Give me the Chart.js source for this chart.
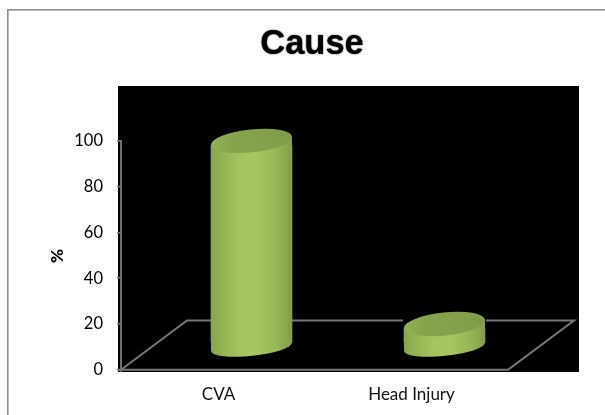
<!DOCTYPE html>
<html>
<head>
<meta charset="utf-8">
<style>
html,body{margin:0;padding:0;background:#fff;overflow:hidden}
#wrap{position:absolute;left:0;top:0;width:605px;height:415px}
canvas{display:block}
</style>
<script src="https://cdn.jsdelivr.net/npm/chart.js@4/dist/chart.umd.min.js"></script>
</head>
<body>
<div id="wrap"><canvas id="c" width="605" height="415"></canvas></div>
<script>
const categories = ['CVA', 'Head Injury'];
const causeValues = [90, 10];
const yTicks = [0, 20, 40, 60, 80, 100];
const chartTitle = 'Cause';
const yAxisTitle = '%';
const floorMidValue = 10;   // 3D floor: bars stand mid-way back on the floor
const floorBackValue = 21.5;

const DEPTH_X = 33;     // shift of bars, from 3D perspective
const BACK_X = 66;
const TILT = -0.105;
const MINOR_TOP = 11.5;
const MINOR_BOTTOM = 9;

function bodyGradient(ctx2d, cx, half) {
  const g = ctx2d.createLinearGradient(cx - half, 0, cx + half, 0);
  g.addColorStop(0, '#88a54b');
  g.addColorStop(0.15, '#95b455');
  g.addColorStop(0.35, '#a3c45e');
  g.addColorStop(0.55, '#a6c760');
  g.addColorStop(0.8, '#98b757');
  g.addColorStop(1, '#82a047');
  return g;
}
function capGradient(ctx2d, cx, half) {
  const g = ctx2d.createLinearGradient(cx - half, 0, cx + half, 0);
  g.addColorStop(0, '#92b252');
  g.addColorStop(0.25, '#86a44c');
  g.addColorStop(1, '#809d49');
  return g;
}

const scenePlugin = {
  id: 'scene',
  afterLayout(chart) {
    const t = chart.titleBlock;
    if (t && !t._thick) {
      const draw = t.draw.bind(t);
      t._thick = true;
      t.draw = function () {
        const c = chart.ctx;
        c.save();
        c.shadowColor = '#000000';
        c.shadowBlur = 1.5;
        draw();
        c.restore();
      };
    }
  },
  beforeDraw(chart) {
    const c = chart.ctx, a = chart.chartArea, y = chart.scales.y;
    c.save();
    c.fillStyle = '#ffffff';
    c.fillRect(0, 0, chart.width, chart.height);
    // outer frame (top and left only)
    c.fillStyle = '#8f8f8f';
    c.fillRect(7, 9, chart.width - 7, 1.6);
    c.fillRect(7, 9, 1.6, chart.height - 9);
    // black plot wall
    c.fillStyle = '#000000';
    c.fillRect(a.left - 4, a.top, a.right - a.left + 4 + BACK_X + 5, a.bottom - a.top);
    // floor
    const y0 = y.getPixelForValue(0), yb = y.getPixelForValue(floorBackValue);
    c.strokeStyle = '#777777';
    c.lineWidth = 2;
    c.beginPath();
    c.moveTo(a.left - 4, y0);
    c.lineTo(a.right, y0);
    c.lineTo(a.right + BACK_X, yb);
    c.lineTo(a.left + BACK_X - 1, yb);
    c.lineTo(a.left - 1, y0);
    c.stroke();
    c.restore();
  },
  beforeDatasetDraw(chart) {
    const c = chart.ctx;
    c.save();
    c.translate(DEPTH_X, 0);
  },
  afterDatasetDraw(chart) {
    const c = chart.ctx;
    c.restore();
    const meta = chart.getDatasetMeta(0);
    meta.data.forEach(bar => {
      const half = bar.width / 2, lift = half * Math.tan(-TILT);
      const x = bar.x + DEPTH_X;
      const major = half / Math.cos(TILT);
      const body = bodyGradient(c, x, half);
      // black out the flat ends of the plain bar where they poke past the tilted rims
      c.fillStyle = '#000000';
      c.fillRect(x - half - 1, bar.y - lift - 1, bar.width + 2, 2 * lift + 1);
      c.fillRect(x - half - 1, bar.base - lift, bar.width + 2, 2 * lift + 2);
      c.beginPath();
      c.moveTo(x - half, bar.y + lift);
      c.lineTo(x + half, bar.y - lift);
      c.lineTo(x + half, bar.base - lift);
      c.lineTo(x - half, bar.base + lift);
      c.closePath();
      c.fillStyle = body;
      c.fill();
      // bottom rim
      c.beginPath();
      c.ellipse(x, bar.base, major, MINOR_BOTTOM, TILT, 0, Math.PI * 2);
      c.fill();
      // top cap
      c.beginPath();
      c.ellipse(x, bar.y, major, MINOR_TOP, TILT, 0, Math.PI * 2);
      c.fillStyle = capGradient(c, x, half);
      c.fill();
    });
  },
  afterDraw(chart) {
    const c = chart.ctx, a = chart.chartArea, y = chart.scales.y;
    c.save();
    // y axis line
    c.strokeStyle = '#6e6e6e';
    c.lineWidth = 2;
    c.beginPath();
    c.moveTo(a.left - 1, y.getPixelForValue(100));
    c.lineTo(a.left - 1, a.bottom);
    c.stroke();
    // axis title
    c.translate(57.5, 256);
    c.rotate(-Math.PI / 2);
    c.fillStyle = '#000000';
    c.font = '900 17px Lato';
    c.textAlign = 'center';
    c.textBaseline = 'middle';
    c.fillText(yAxisTitle, 0, 0);
    c.restore();
  }
};

new Chart(document.getElementById('c'), {
  type: 'bar',
  data: {
    labels: categories,
    datasets: [{
      data: causeValues.map(v => [floorMidValue, floorMidValue + v]),
      barThickness: 81,
      borderWidth: 0,
      borderSkipped: false,
      clip: false,
      backgroundColor: ctx => {
        const ch = ctx.chart;
        if (!ch.chartArea || !ch.scales.x) return '#a6c760';
        return bodyGradient(ch.ctx, ch.scales.x.getPixelForValue(ctx.dataIndex), 40.5);
      }
    }]
  },
  plugins: [scenePlugin],
  options: {
    responsive: false,
    animation: false,
    devicePixelRatio: 1,
    layout: { padding: { left: 19, right: 0, top: 0, bottom: 0 } },
    plugins: {
      legend: { display: false },
      tooltip: { enabled: false },
      title: {
        display: true,
        text: chartTitle,
        color: '#000000',
        font: { family: '"Liberation Sans"', size: 34.5, weight: 'bold', lineHeight: 1.2 },
        padding: { top: 24, bottom: 20.6 }
      }
    },
    scales: {
      x: {
        type: 'category',
        grid: { display: false },
        border: { display: false },
        ticks: { color: '#111111', font: { family: 'Lato', size: 17 }, padding: 4, maxRotation: 0 },
        afterFit(s) { s.height = 43; }
      },
      y: {
        min: -1,
        max: 124,
        afterBuildTicks(s) { s.ticks = yTicks.map(v => ({ value: v })); },
        grid: { drawOnChartArea: false, drawTicks: true, tickLength: 5, color: '#7a7a7a', lineWidth: 1.5 },
        border: { display: false },
        ticks: { color: '#000000', font: { family: 'Lato', size: 16.5 }, padding: 14 },
        afterFit(s) { s.width = 103; }
      },
      r2: {
        type: 'linear',
        position: 'right',
        display: true,
        grid: { display: false },
        border: { display: false },
        ticks: { display: false },
        afterFit(s) { s.width = 97; }
      }
    }
  }
});
</script>
</body>
</html>
